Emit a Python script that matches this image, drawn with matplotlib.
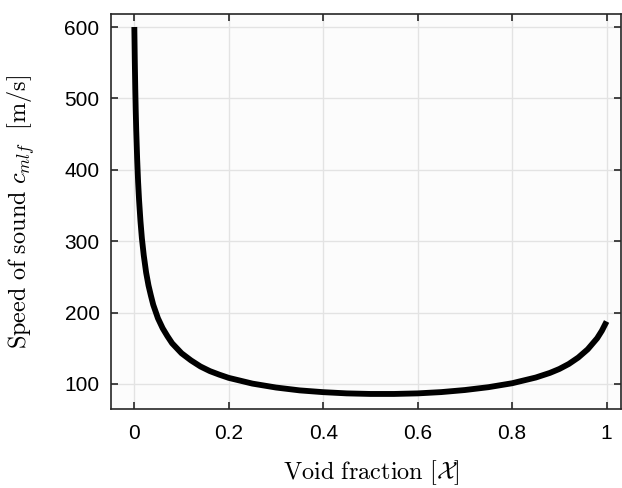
import numpy as np
import matplotlib.pyplot as plt

# values
void_fraction = [0.0, 0.001, 0.002, 0.003, 0.004, 0.006, 0.008, 0.010, 0.013, 0.016,
                 0.020, 0.025, 0.030, 0.035, 0.040, 0.050, 0.060, 0.070, 0.080, 0.090,
                 0.10, 0.12, 0.14, 0.16, 0.18, 0.20, 0.25, 0.30, 0.35, 0.40,
                 0.45, 0.50, 0.55, 0.60, 0.65, 0.70, 0.75, 0.80, 0.85, 0.88,
                 0.90, 0.92, 0.94, 0.96, 0.98, 0.99, 1.0]
speed = [600, 552, 513, 482, 456, 415, 383, 358, 328, 304,
         280, 256, 238, 224, 211, 192, 178, 167, 157, 150,
         143, 133, 124.5, 118, 113, 108.5, 100.5, 95, 91, 88.5,
         86.8, 86, 86, 86.8, 88.6, 91.5, 95.5, 101, 109, 115.5,
         121, 128, 137, 148.5, 164, 174.5, 187.5]

xticks = [0, 0.2, 0.4, 0.6, 0.8, 1]
xticklabels = ["0", "0.2", "0.4", "0.6", "0.8", "1"]
yticks = [100, 200, 300, 400, 500, 600]

plt.rcParams["mathtext.fontset"] = "cm"
plt.rcParams["font.family"] = "Liberation Sans"

fig = plt.figure(figsize=(6.22, 4.88), dpi=100)
ax = fig.add_axes([0.178, 0.162, 0.82, 0.809])
ax.set_facecolor("#fcfcfc")

ax.plot(void_fraction, speed, color="black", linewidth=4.2,
        solid_capstyle="butt", solid_joinstyle="round")

ax.set_xlim(-0.05, 1.03)
ax.set_ylim(65, 618)
ax.set_xticks(xticks)
ax.set_xticklabels(xticklabels)
ax.set_yticks(yticks)
ax.grid(True, color="#e3e3e3", linewidth=1.0)
ax.set_axisbelow(True)

ax.tick_params(direction="in", top=True, right=True, labelsize=15,
               length=5, width=1.2, color="#262626")
ax.tick_params(axis="x", pad=11)
ax.tick_params(axis="y", pad=8)
for s in ax.spines.values():
    s.set_color("#262626")
    s.set_linewidth(1.2)

ax.set_xlabel(r"$\mathrm{Void\ fraction}\ [\mathcal{X}]$", fontsize=17.5)
ax.set_ylabel(r"$\mathrm{Speed\ of\ sound}\ c_{mlf}\ \ [\mathrm{m/s}]$", fontsize=17.5)
ax.xaxis.set_label_coords(0.51, -0.125)
ax.yaxis.set_label_coords(-0.145, 0.5)

fig.savefig("out.png", dpi=100)
